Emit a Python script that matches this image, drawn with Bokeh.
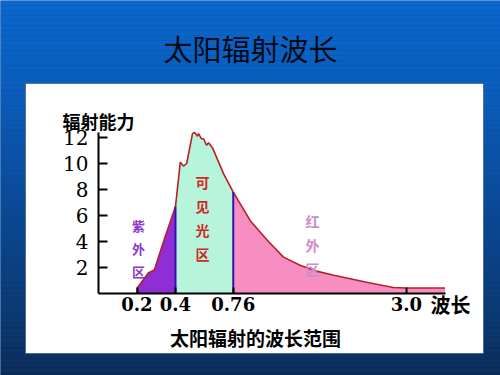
import numpy as np
from bokeh.plotting import figure
from bokeh.models import Range1d, LinearAxis, FixedTicker, BoxAnnotation, Label
from bokeh.embed import file_html
from bokeh.resources import INLINE

# ---------------- data ----------------
TITLE = "太阳辐射波长"
Y_TITLE = "辐射能力"
X_TITLE = "波长"
CAPTION = "太阳辐射的波长范围"

wavelength = [0.20, 0.20, 0.26, 0.29, 0.34, 0.40, 0.43, 0.45, 0.47, 0.506, 0.518,
              0.537, 0.544, 0.562, 0.575, 0.593, 0.606, 0.631, 0.70, 0.76, 0.98,
              1.20, 1.41, 1.63, 1.85, 2.06, 2.50, 2.83, 3.00, 3.50]
radiation = [0.0, 0.4, 1.6, 1.8, 4.1, 6.7, 10.1, 9.8, 10.0, 12.3, 12.4,
             12.1, 12.3, 11.9, 11.9, 11.4, 11.6, 11.2, 9.2, 7.8, 5.6,
             4.1, 2.8, 2.15, 1.7, 1.4, 0.85, 0.46, 0.42, 0.42]

region_names = ["紫外区", "可见光区", "红外区"]
region_limits = [(0.2, 0.4), (0.4, 0.76), (0.76, 3.5)]
region_colors = ["#8E2ED4", "#B6F5DC", "#F78EC2"]
region_text_colors = ["#8A38C8", "#D0281E", "#CF8CC8"]
boundaries = [0.4, 0.76]

x_tick_values = [0.2, 0.4, 0.76, 3.0]
x_tick_labels = ["0.2", "0.4", "0.76", "3.0"]
y_tick_values = [2, 4, 6, 8, 10, 12]

# schematic (non-linear) wavelength axis of the original drawing
AXIS_WL = [0.2, 0.4, 0.76, 3.0, 3.5]
AXIS_POS = [1.0, 2.0, 3.5, 8.0, 9.0]


def to_axis(w):
    return np.interp(w, AXIS_WL, AXIS_POS)


# ---------------- layout helpers (page pixels -> data) ----------------
W, H = 500, 375
PX_U, X0 = 38.5, 98.0
PX_V, Y0 = 13.0, 293.0


def dx(X):
    return (X - X0) / PX_U


def dy(Y):
    return (Y0 - Y) / PX_V


p = figure(width=W, height=H,
           x_range=Range1d(dx(0), dx(W)),
           y_range=Range1d(dy(H), dy(0)),
           output_backend="svg", toolbar_location=None,
           x_axis_location=None, y_axis_location=None, min_border=0)
p.outline_line_color = None
p.xgrid.visible = False
p.ygrid.visible = False
p.background_fill_color = "#0A4A98"
p.border_fill_color = "#0A4A98"

# background gradient
stops_y = [0, 100, 200, 300, 375]
stops_c = [(10, 104, 206), (10, 92, 184), (10, 74, 152), (11, 58, 116), (11, 44, 88)]
for yy in range(0, 380, 5):
    r = int(np.interp(yy, stops_y, [c[0] for c in stops_c]))
    g = int(np.interp(yy, stops_y, [c[1] for c in stops_c]))
    b = int(np.interp(yy, stops_y, [c[2] for c in stops_c]))
    p.add_layout(BoxAnnotation(left=dx(-2), right=dx(502), top=dy(yy), bottom=dy(yy + 5),
                               fill_color=f"#{r:02x}{g:02x}{b:02x}", fill_alpha=1,
                               line_color=None, level="underlay"))

# white panel
p.add_layout(BoxAnnotation(left=dx(25), right=dx(483), top=dy(83), bottom=dy(353),
                           fill_color="white", fill_alpha=1, line_color="#23385e",
                           line_alpha=0.5, line_width=1, level="underlay"))

wl = np.array(wavelength)
rad = np.array(radiation)
u = to_axis(wl)

for (lo, hi), col in zip(region_limits, region_colors):
    m = (wl >= lo) & (wl <= hi)
    p.varea(x=u[m], y1=0, y2=rad[m], fill_color=col)

p.line(u, rad, line_color="#B82026", line_width=1.6)

b_top = np.interp(boundaries, wl[1:], rad[1:])
p.segment(x0=to_axis(boundaries), y0=0, x1=to_axis(boundaries), y1=b_top,
          line_color="#3312A6", line_width=2)

# axes
xaxis = LinearAxis(fixed_location=0, bounds=(0, float(to_axis(3.5))),
                   ticker=FixedTicker(ticks=[float(t) for t in to_axis(x_tick_values)]),
                   major_label_overrides={float(to_axis(t)): l for t, l in zip(x_tick_values, x_tick_labels)},
                   axis_line_color="black", axis_line_width=2,
                   major_tick_in=6, major_tick_out=0, major_tick_line_width=2,
                   minor_tick_in=0, minor_tick_out=0,
                   major_label_standoff=3,
                   major_label_text_font="DejaVu Serif",
                   major_label_text_font_size="18px",
                   major_label_text_font_style="bold",
                   major_label_text_color="black")
p.add_layout(xaxis, "below")

yaxis = LinearAxis(fixed_location=0, bounds=(0, 12.4),
                   ticker=FixedTicker(ticks=y_tick_values),
                   axis_line_color="black", axis_line_width=2,
                   major_tick_in=9, major_tick_out=0, major_tick_line_width=2,
                   minor_tick_in=0, minor_tick_out=0,
                   major_label_standoff=10,
                   major_label_text_font="DejaVu Serif",
                   major_label_text_font_size="20px",
                   major_label_text_color="black")
p.add_layout(yaxis, "left")

CJK = "Noto Sans CJK SC"
p.add_layout(Label(x=dx(250), y=dy(47), text=TITLE, text_align="center",
                   text_baseline="middle", text_font=CJK, text_font_size="29px",
                   text_color="#050a18"))
p.add_layout(Label(x=0, y=dy(120), text=Y_TITLE, text_align="center",
                   text_baseline="middle", text_font=CJK, text_font_size="18px",
                   text_font_style="bold", text_color="black"))
p.add_layout(Label(x=dx(450), y=dy(304), text=X_TITLE, text_align="center",
                   text_baseline="middle", text_font=CJK, text_font_size="20px",
                   text_font_style="bold", text_color="black"))
p.add_layout(Label(x=dx(255), y=dy(337), text=CAPTION, text_align="center",
                   text_baseline="middle", text_font=CJK, text_font_size="19px",
                   text_font_style="bold", text_color="black"))

region_label_px = [(138, 248), (202, 217), (312, 244)]
region_label_size = ["13px", "14px", "14px"]
for name, (X, Y), col, fs in zip(region_names, region_label_px, region_text_colors, region_label_size):
    p.add_layout(Label(x=dx(X), y=dy(Y), text="\n".join(name), text_align="center",
                       text_baseline="middle", text_font=CJK, text_font_size=fs,
                       text_font_style="bold", text_color=col, text_line_height=1.2))

open("out.html", "w").write(file_html(p, INLINE))
